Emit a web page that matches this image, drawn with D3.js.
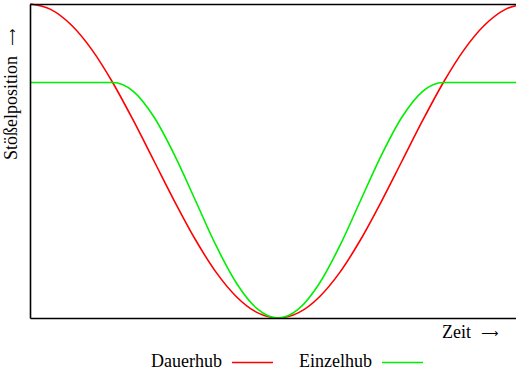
<!DOCTYPE html>
<html>
<head>
<meta charset="utf-8">
<script src="https://cdn.jsdelivr.net/npm/d3@7"></script>
<style>
  body { margin: 0; background: #fff; }
  text { font-family: "Liberation Serif", "Times New Roman", serif; font-size: 18px; fill: #000; }
  text.arrow { font-family: "DejaVu Sans", sans-serif; font-size: 12px; }
</style>
</head>
<body>
<svg id="chart"></svg>
<script>
// crank angle in degrees, one full turn
const angles = [0, 15, 30, 45, 60, 75, 90, 105, 120, 135, 150, 165, 180,
                195, 210, 225, 240, 255, 270, 285, 300, 315, 330, 345, 360];
// ram position, continuous stroke
const dauerhub = [1.000, 0.983, 0.933, 0.854, 0.750, 0.629, 0.500, 0.371, 0.250, 0.146, 0.067, 0.017, 0.000,
                  0.017, 0.067, 0.146, 0.250, 0.371, 0.500, 0.629, 0.750, 0.854, 0.933, 0.983, 1.000];
// ram position, single stroke
const einzelhub = [0.750, 0.750, 0.750, 0.750, 0.750, 0.722, 0.640, 0.518, 0.375, 0.231, 0.110, 0.029, 0.000,
                   0.029, 0.110, 0.231, 0.375, 0.518, 0.640, 0.722, 0.750, 0.750, 0.750, 0.750, 0.750];
const seriesNames = ["Dauerhub", "Einzelhub"];
const seriesColors = ["#ff0000", "#00ee00"];

(function () {
    const width = 516, height = 372;
    const left = 30, top = 4, bottom = 318, right = 526;

    const svg = d3.select("#chart")
        .attr("width", width)
        .attr("height", height);

    const x = d3.scaleLinear().domain([0, 360]).range([left, right]);
    const y = d3.scaleLinear().domain([0, 1]).range([bottom, top]);

    svg.append("clipPath").attr("id", "plot-clip")
        .append("rect")
        .attr("x", left).attr("y", top - 2)
        .attr("width", width - left).attr("height", bottom - top + 4);

    const line = d3.line()
        .x(d => x(d[0]))
        .y(d => y(d[1]))
        .curve(d3.curveMonotoneX);

    const series = [dauerhub, einzelhub];
    series.forEach((vals, i) => {
        svg.append("path")
            .datum(angles.map((a, j) => [a, vals[j]]))
            .attr("clip-path", "url(#plot-clip)")
            .attr("d", line)
            .style("fill", "none")
            .style("stroke", seriesColors[i])
            .style("stroke-width", 1.6);
    });

    // frame: left, top and bottom lines, no ticks
    const frame = [
        svg.append("g").attr("transform", `translate(0,${bottom})`).call(d3.axisBottom(x).tickValues([]).tickSizeOuter(0)),
        svg.append("g").attr("transform", `translate(0,${top})`).call(d3.axisTop(x).tickValues([]).tickSizeOuter(0)),
        svg.append("g").attr("transform", `translate(${left},0)`).call(d3.axisLeft(y).tickValues([]).tickSizeOuter(0))
    ];
    frame.forEach(g => g.select(".domain").attr("stroke", "#000").attr("stroke-width", 1.6));

    // axis titles
    svg.append("text").attr("x", 442).attr("y", 338).text("Zeit");
    svg.append("text").attr("class", "arrow").attr("x", 481).attr("y", 337).text("⟶");

    const yl = svg.append("g").attr("transform", "translate(17,0) rotate(-90)");
    yl.append("text").attr("x", -160).attr("y", 0).text("Stößelposition");
    yl.append("text").attr("class", "arrow").attr("x", -46).attr("y", -1).text("⟶");

    // legend
    const legendX = [[151, 232, 273], [299, 382, 423]];
    seriesNames.forEach((name, i) => {
        svg.append("text").attr("x", legendX[i][0]).attr("y", 367).text(name);
        svg.append("line")
            .attr("x1", legendX[i][1]).attr("x2", legendX[i][2])
            .attr("y1", 362.5).attr("y2", 362.5)
            .style("stroke", seriesColors[i])
            .style("stroke-width", 1.6);
    });
})();
</script>
</body>
</html>
